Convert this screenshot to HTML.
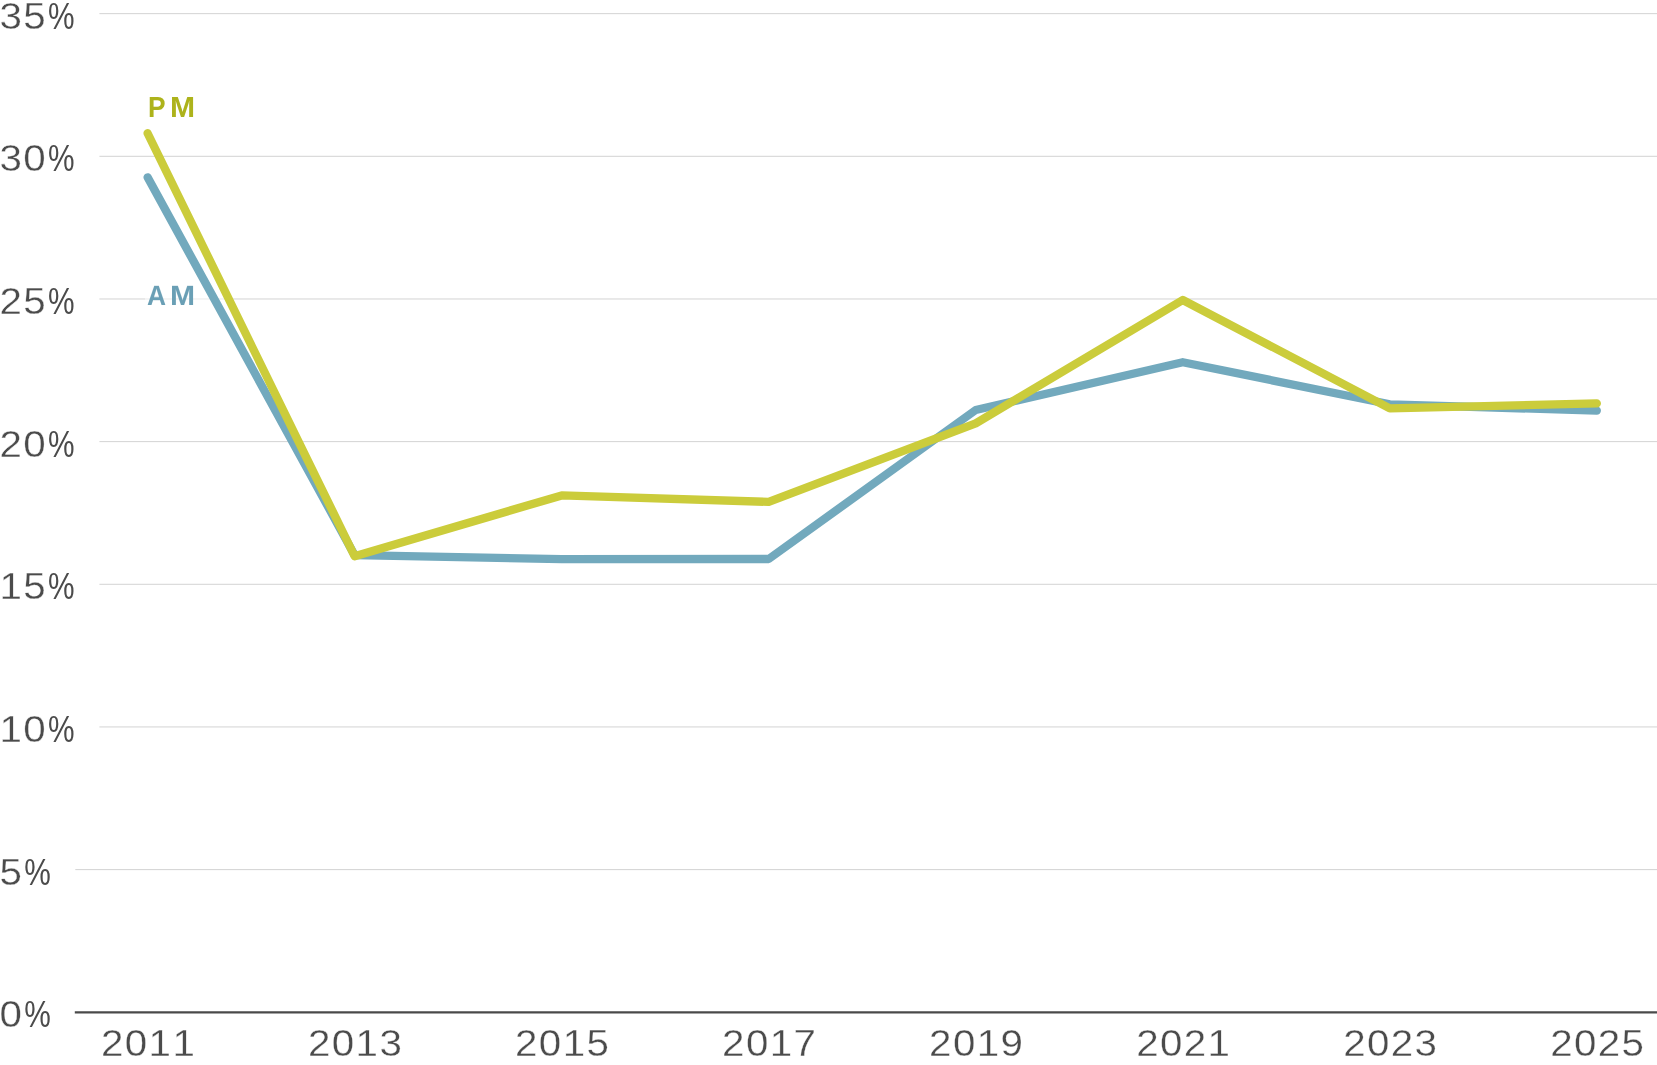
<!DOCTYPE html>
<html lang="en"><head><meta charset="utf-8"><title>AM and PM share, 2011-2025</title>
<style>
html,body{margin:0;padding:0;background:#fff}
body{width:1657px;height:1065px;position:relative;overflow:hidden;font-family:"Liberation Sans",Arial,Helvetica,sans-serif}
svg{position:absolute;left:0;top:0;display:block}
.t{-webkit-text-stroke:0.35px #fff;font-kerning:none;will-change:transform;position:absolute;left:0;top:0;white-space:nowrap;line-height:1;font-size:37.70px;letter-spacing:1.28px;color:#4b4b4b;transform-origin:0 0}
.t i{font-style:normal;display:inline-block;letter-spacing:0;-webkit-text-stroke:0 transparent;transform-origin:0 84.65%}
.s{font-kerning:none;will-change:transform;position:absolute;left:0;top:0;white-space:nowrap;line-height:1;font-size:28.9px;font-weight:bold;transform-origin:0 0}
.s b{display:inline-block;transform-origin:0 0}
</style></head><body>

<svg width="1657" height="1065" viewBox="0 0 1657 1065">
<line x1="99.4" y1="13.65" x2="1657" y2="13.65" stroke="#d3d3d3" stroke-width="1"/>
<line x1="99.4" y1="156.31" x2="1657" y2="156.31" stroke="#d3d3d3" stroke-width="1"/>
<line x1="99.4" y1="298.97" x2="1657" y2="298.97" stroke="#d3d3d3" stroke-width="1"/>
<line x1="99.4" y1="441.63" x2="1657" y2="441.63" stroke="#d3d3d3" stroke-width="1"/>
<line x1="99.4" y1="584.29" x2="1657" y2="584.29" stroke="#d3d3d3" stroke-width="1"/>
<line x1="99.4" y1="726.95" x2="1657" y2="726.95" stroke="#d3d3d3" stroke-width="1"/>
<line x1="75.3" y1="869.61" x2="1657" y2="869.61" stroke="#d3d3d3" stroke-width="1"/>
<line x1="74.8" y1="1012.35" x2="1657" y2="1012.35" stroke="#4a4a4a" stroke-width="2.1"/>
<rect x="145" y="296" width="87" height="6" fill="#fff" fill-opacity=".5"/>
<polyline points="147.60,177.30 354.63,555.20 561.66,559.20 768.69,559.00 975.72,410.00 1182.75,362.20 1389.78,404.30 1596.81,410.70" fill="none" stroke="#72a9bd" stroke-width="8.3" stroke-linecap="round" stroke-linejoin="round"/>
<polyline points="147.60,133.20 354.63,556.20 561.66,495.40 768.69,501.90 975.72,423.40 1182.75,300.00 1389.78,408.40 1596.81,403.40" fill="none" stroke="#cbcc3b" stroke-width="8.3" stroke-linecap="round" stroke-linejoin="round"/>
</svg>
<div class="t" style="transform:translate(-0.45px,-2.00px) scaleX(1.07)">35<i style="transform:translateX(1.30px) scale(.74,.96)">%</i></div>
<div class="t" style="transform:translate(-0.45px,140.00px) scaleX(1.07)">30<i style="transform:translateX(1.30px) scale(.74,.96)">%</i></div>
<div class="t" style="transform:translate(-0.45px,283.00px) scaleX(1.07)">25<i style="transform:translateX(1.30px) scale(.74,.96)">%</i></div>
<div class="t" style="transform:translate(-0.45px,426.00px) scaleX(1.07)">20<i style="transform:translateX(1.30px) scale(.74,.96)">%</i></div>
<div class="t" style="transform:translate(-0.45px,568.00px) scaleX(1.07)">15<i style="transform:translateX(1.30px) scale(.74,.96)">%</i></div>
<div class="t" style="transform:translate(-0.45px,711.00px) scaleX(1.07)">10<i style="transform:translateX(1.30px) scale(.74,.96)">%</i></div>
<div class="t" style="transform:translate(-0.45px,854.00px) scaleX(1.07)">5<i style="transform:translateX(1.20px) scale(.74,.96)">%</i></div>
<div class="t" style="transform:translate(-0.45px,996.00px) scaleX(1.07)">0<i style="transform:translateX(1.20px) scale(.74,.96)">%</i></div>
<div class="t" style="transform:translate(101.00px,1025.00px) scaleX(1.07)">2011</div>
<div class="t" style="transform:translate(308.03px,1025.00px) scaleX(1.07)">2013</div>
<div class="t" style="transform:translate(515.06px,1025.00px) scaleX(1.07)">2015</div>
<div class="t" style="transform:translate(722.09px,1025.00px) scaleX(1.07)">2017</div>
<div class="t" style="transform:translate(929.12px,1025.00px) scaleX(1.07)">2019</div>
<div class="t" style="transform:translate(1136.15px,1025.00px) scaleX(1.07)">2021</div>
<div class="t" style="transform:translate(1343.18px,1025.00px) scaleX(1.07)">2023</div>
<div class="t" style="transform:translate(1550.21px,1025.00px) scaleX(1.07)">2025</div>
<div class="s" style="color:#adb31b;transform:translate(0.00px,93.00px) scaleY(1.000)"><b style="transform:scaleX(0.910);margin-left:147.90px">P</b><b style="transform:scaleX(1.042);margin-left:2.70px">M</b></div>
<div class="s" style="color:#6a9fb5;transform:translate(0.00px,281.90px) scaleY(0.962)"><b style="transform:scaleX(0.913);margin-left:146.60px">A</b><b style="transform:scaleX(1.042);margin-left:2.90px">M</b></div>
</body></html>
